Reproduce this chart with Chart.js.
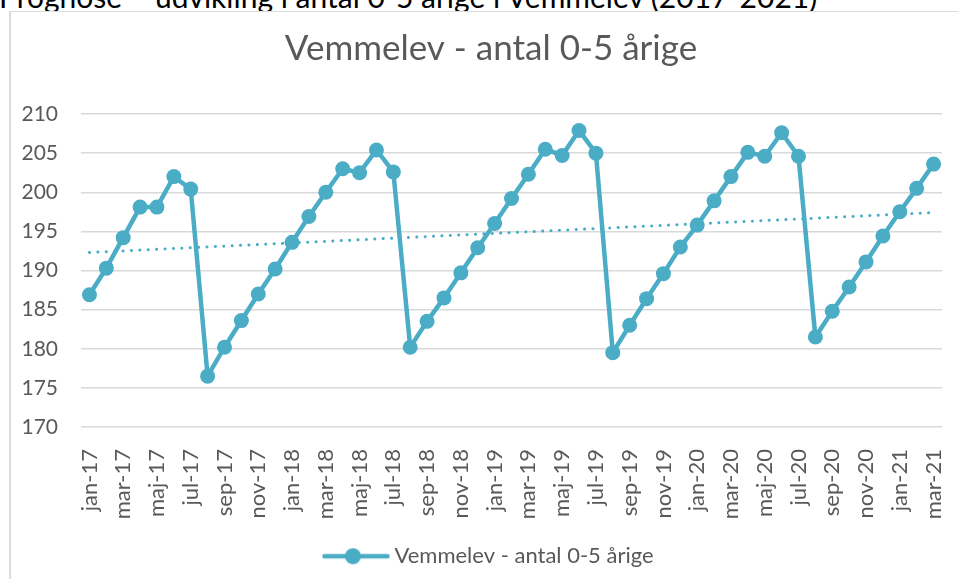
<!DOCTYPE html>
<html>
<head>
<meta charset="utf-8">
<script src="https://cdn.jsdelivr.net/npm/chart.js@4.4.1/dist/chart.umd.min.js"></script>
<style>
  html, body { margin: 0; padding: 0; background: #ffffff; overflow: hidden; }
  #page { position: relative; width: 958px; height: 579px; overflow: hidden; }
  #doctext { position: absolute; left: -1px; top: -19px; font-family: Lato, sans-serif; font-size: 30px; line-height: 30px; color: #000; white-space: nowrap; z-index: 1; }
  #box { position: absolute; left: 9px; top: 11px; width: 1000px; height: 1000px; border: 2px solid #dcdcdc; border-top-width: 1px; background: #fff; z-index: 2; }
  #c { position: absolute; left: 0; top: 0; z-index: 3; }
</style>
</head>
<body>
<div id="page">
  <div id="doctext">Prognose – udvikling i antal 0-5 årige i Vemmelev (2017-2021)</div>
  <div id="box"></div>
  <canvas id="c" width="1000" height="579"></canvas>
</div>
<script>
const chartTitle = "Vemmelev - antal 0-5 årige";
const seriesName = "Vemmelev - antal 0-5 årige";
const categories = [
  "jan-17","feb-17","mar-17","apr-17","maj-17","jun-17","jul-17","aug-17","sep-17","okt-17","nov-17","dec-17",
  "jan-18","feb-18","mar-18","apr-18","maj-18","jun-18","jul-18","aug-18","sep-18","okt-18","nov-18","dec-18",
  "jan-19","feb-19","mar-19","apr-19","maj-19","jun-19","jul-19","aug-19","sep-19","okt-19","nov-19","dec-19",
  "jan-20","feb-20","mar-20","apr-20","maj-20","jun-20","jul-20","aug-20","sep-20","okt-20","nov-20","dec-20",
  "jan-21","feb-21","mar-21"
];
const values = [
  186.9, 190.3, 194.2, 198.1, 198.1, 202.0, 200.4, 176.5, 180.2, 183.6, 187.0, 190.2,
  193.6, 196.9, 200.0, 203.0, 202.5, 205.4, 202.6, 180.2, 183.5, 186.5, 189.7, 192.9,
  196.0, 199.2, 202.3, 205.5, 204.7, 207.9, 205.0, 179.5, 183.0, 186.4, 189.6, 193.0,
  195.8, 198.9, 202.0, 205.1, 204.6, 207.6, 204.6, 181.5, 184.8, 187.9, 191.1, 194.4,
  197.5, 200.5, 203.6
];
// linear trendline endpoints (first and last month)
const trendStart = 192.3;
const trendEnd = 197.4;
const yTicks = [170, 175, 180, 185, 190, 195, 200, 205, 210];

const COLOR = "#4BACC6";
const GRAY = "#595959";

const trendData = categories.map((c, i) => i === 0 ? trendStart : (i === categories.length - 1 ? trendEnd : null));

// legend marker: line with a circle
const marker = document.createElement("canvas");
marker.width = 68; marker.height = 18;
(function () {
  const g = marker.getContext("2d");
  g.strokeStyle = COLOR; g.lineWidth = 4.5; g.lineCap = "round";
  g.beginPath(); g.moveTo(2.5, 9); g.lineTo(65.5, 9); g.stroke();
  g.fillStyle = COLOR; g.beginPath(); g.arc(31, 9, 8, 0, Math.PI * 2); g.fill();
})();

new Chart(document.getElementById("c"), {
  type: "line",
  data: {
    labels: categories,
    datasets: [
      {
        label: seriesName,
        data: values,
        yAxisID: "y",
        borderColor: COLOR,
        backgroundColor: COLOR,
        borderWidth: 4.5,
        pointRadius: 7.5,
        pointHoverRadius: 7.5,
        pointBackgroundColor: COLOR,
        pointBorderWidth: 0,
        tension: 0,
        order: 1
      },
      {
        label: "trend",
        data: trendData,
        yAxisID: "y",
        spanGaps: true,
        borderColor: COLOR,
        borderWidth: 3,
        borderDash: [0.1, 8.3],
        borderCapStyle: "round",
        pointRadius: 0,
        tension: 0,
        order: 2
      }
    ]
  },
  options: {
    responsive: false,
    animation: false,
    devicePixelRatio: 1,
    layout: { padding: { left: 0, right: 18, top: 0, bottom: 1.8 } },
    plugins: {
      tooltip: { enabled: false },
      title: {
        display: true,
        text: chartTitle,
        color: GRAY,
        font: { family: "Lato", size: 35, weight: "normal", lineHeight: 1.2 },
        padding: { top: 27.7, bottom: 44.3 }
      },
      legend: {
        display: true,
        position: "bottom",
        labels: {
          filter: (item) => item.datasetIndex === 0,
          usePointStyle: true,
          pointStyle: marker,
          pointStyleWidth: 55,
          color: GRAY,
          font: { family: "Lato", size: 22 },
          padding: 10
        }
      }
    },
    scales: {
      y: {
        position: "left",
        min: 170,
        max: 210,
        grid: { color: "#d9d9d9", lineWidth: 1.5, drawTicks: false },
        border: { display: false },
        ticks: {
          stepSize: 5,
          padding: 23,
          color: GRAY,
          font: { family: "Lato", size: 21 },
          callback: (v) => yTicks.includes(v) ? String(v) : ""
        },
        afterFit: (s) => { s.width = 81; }
      },
      x: {
        offset: true,
        grid: { display: false, drawTicks: true, tickLength: 22 },
        border: { display: false },
        ticks: {
          autoSkip: false,
          minRotation: 90,
          maxRotation: 90,
          padding: 0,
          color: GRAY,
          font: { family: "Lato", size: 22, lineHeight: 1.0 },
          callback: function (v, i) { return i % 2 === 0 ? categories[i] : ""; }
        },
        afterFit: (s) => { s.height = 108.2; }
      },
      y2: {
        position: "right",
        display: true,
        grid: { display: false, drawTicks: false },
        border: { display: false },
        ticks: { display: false },
        afterFit: (s) => { s.width = 40; }
      }
    }
  }
});
</script>
</body>
</html>
